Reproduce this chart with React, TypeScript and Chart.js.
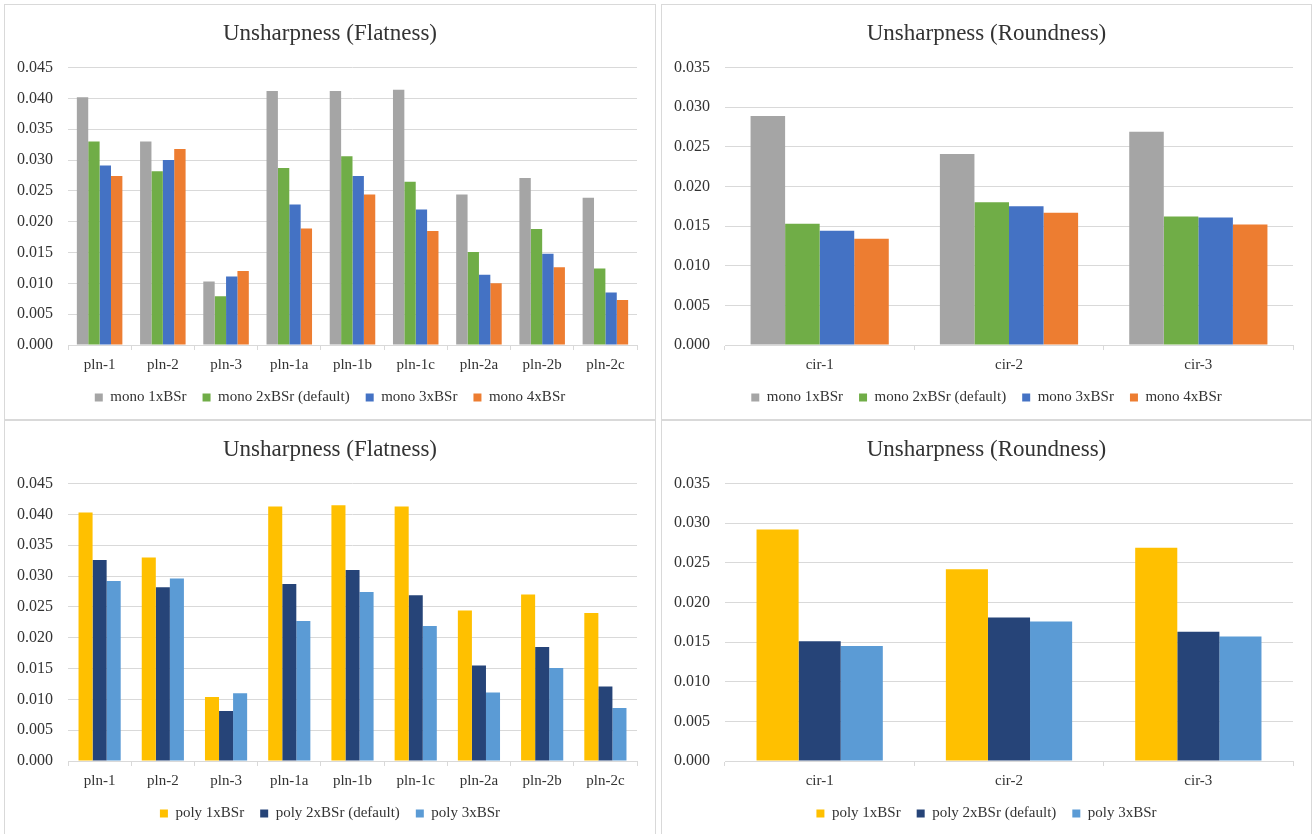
import React, { useEffect, useRef } from 'react';
import { Chart, registerables } from 'chart.js';

Chart.register(...registerables);

// ---------- data ----------
const flatCategories = ['pln-1', 'pln-2', 'pln-3', 'pln-1a', 'pln-1b', 'pln-1c', 'pln-2a', 'pln-2b', 'pln-2c'];
const roundCategories = ['cir-1', 'cir-2', 'cir-3'];

const monoLabels = ['mono 1xBSr', 'mono 2xBSr (default)', 'mono 3xBSr', 'mono 4xBSr'];
const polyLabels = ['poly 1xBSr', 'poly 2xBSr (default)', 'poly 3xBSr'];

const monoFlat1 = [0.0402, 0.0330, 0.0103, 0.0412, 0.0412, 0.0414, 0.0244, 0.0271, 0.0239];
const monoFlat2 = [0.0330, 0.0282, 0.0079, 0.0287, 0.0306, 0.0265, 0.0151, 0.0188, 0.0124];
const monoFlat3 = [0.0291, 0.0300, 0.0111, 0.0228, 0.0274, 0.0220, 0.0114, 0.0148, 0.0085];
const monoFlat4 = [0.0274, 0.0318, 0.0120, 0.0189, 0.0244, 0.0185, 0.0100, 0.0126, 0.0073];

const monoRound1 = [0.0289, 0.0241, 0.0269];
const monoRound2 = [0.0153, 0.0180, 0.0162];
const monoRound3 = [0.0144, 0.0175, 0.0161];
const monoRound4 = [0.0134, 0.0167, 0.0152];

const polyFlat1 = [0.0403, 0.0330, 0.0104, 0.0413, 0.0415, 0.0413, 0.0244, 0.0270, 0.0240];
const polyFlat2 = [0.0326, 0.0282, 0.0081, 0.0287, 0.0310, 0.0269, 0.0155, 0.0185, 0.0121];
const polyFlat3 = [0.0292, 0.0296, 0.0110, 0.0227, 0.0274, 0.0219, 0.0111, 0.0151, 0.0086];

const polyRound1 = [0.0292, 0.0242, 0.0269];
const polyRound2 = [0.0151, 0.0181, 0.0163];
const polyRound3 = [0.0145, 0.0176, 0.0157];

const flatTitle = 'Unsharpness (Flatness)';
const roundTitle = 'Unsharpness (Roundness)';

const monoColors = ['#A5A5A5', '#70AD47', '#4472C4', '#ED7D31'];
const polyColors = ['#FFC000', '#264478', '#5B9BD5'];

const SERIF = "'Times New Roman', 'Liberation Serif', serif";
const TEXT = '#333333';
const GRID = '#d9d9d9';

type PanelProps = {
  left: number;
  top: number;
  width: number;
  height: number;
  title: string;
  categories: string[];
  labels: string[];
  series: number[][];
  colors: string[];
  max: number;
  catPct: number;
};

function Panel(p: PanelProps) {
  const ref = useRef<HTMLCanvasElement | null>(null);
  useEffect(() => {
    if (!ref.current) return;
    const chart = new Chart(ref.current, {
      type: 'bar',
      data: {
        labels: p.categories,
        datasets: p.series.map((d, i) => ({
          label: p.labels[i],
          data: d,
          backgroundColor: p.colors[i],
          borderWidth: 0,
          barPercentage: 1,
          categoryPercentage: p.catPct,
          yAxisID: 'y',
        })),
      },
      options: {
        responsive: false,
        animation: false,
        layout: { padding: { top: 0, bottom: 4, left: 0, right: 0 } },
        plugins: {
          tooltip: { enabled: false },
          title: {
            display: true,
            text: p.title,
            color: TEXT,
            font: { family: SERIF, size: 23, weight: 'normal', lineHeight: 1.2 },
            padding: { top: 15, bottom: 20 },
          },
          legend: {
            display: true,
            position: 'bottom',
            title: {
              display: true,
              text: '',
              font: { size: 1, lineHeight: 0 },
              padding: { top: -6, bottom: 0 },
            },
            labels: {
              color: TEXT,
              font: { family: SERIF, size: 15 },
              boxWidth: 8,
              boxHeight: 8,
              padding: 16,
            },
          },
        },
        scales: {
          x: {
            type: 'category',
            offset: true,
            grid: {
              display: true,
              offset: true,
              drawOnChartArea: false,
              drawTicks: true,
              tickLength: 5,
              color: GRID,
              lineWidth: 1,
            },
            border: { display: true, color: GRID, width: 1 },
            ticks: {
              color: TEXT,
              font: { family: SERIF, size: 15 },
              padding: 6,
              autoSkip: false,
              maxRotation: 0,
              minRotation: 0,
            },
          },
          y: {
            type: 'linear',
            position: 'left',
            min: 0,
            max: p.max,
            grid: { color: GRID, lineWidth: 1, drawTicks: false },
            border: { display: false },
            ticks: {
              stepSize: 0.005,
              color: TEXT,
              font: { family: SERIF, size: 16 },
              padding: 15,
              callback: (v: any) => Number(v).toFixed(3),
            },
            afterFit: (s: any) => {
              s.width = 63;
            },
          },
          yr: {
            type: 'linear',
            position: 'right',
            display: true,
            grid: { display: false, drawTicks: false },
            border: { display: false },
            ticks: { display: false },
            afterFit: (s: any) => {
              s.width = 18;
            },
          },
        },
      } as any,
    });
    return () => chart.destroy();
  }, []);
  return (
    <div
      style={{
        position: 'absolute',
        left: p.left,
        top: p.top,
        width: p.width,
        height: p.height,
        border: '1px solid #d9d9d9',
        background: '#ffffff',
        boxSizing: 'content-box',
      }}
    >
      <canvas ref={ref} width={p.width} height={p.height} style={{ display: 'block' }} />
    </div>
  );
}

export default function App() {
  return (
    <div
      style={{
        position: 'fixed',
        left: 0,
        top: 0,
        width: 1312,
        height: 834,
        overflow: 'hidden',
        background: '#ffffff',
      }}
    >
      <Panel left={4} top={4} width={650} height={414} title={flatTitle} categories={flatCategories}
        labels={monoLabels} series={[monoFlat1, monoFlat2, monoFlat3, monoFlat4]} colors={monoColors}
        max={0.045} catPct={0.72} />
      <Panel left={661} top={4} width={649} height={414} title={roundTitle} categories={roundCategories}
        labels={monoLabels} series={[monoRound1, monoRound2, monoRound3, monoRound4]} colors={monoColors}
        max={0.035} catPct={0.73} />
      <Panel left={4} top={420} width={650} height={414} title={flatTitle} categories={flatCategories}
        labels={polyLabels} series={[polyFlat1, polyFlat2, polyFlat3]} colors={polyColors}
        max={0.045} catPct={0.667} />
      <Panel left={661} top={420} width={649} height={414} title={roundTitle} categories={roundCategories}
        labels={polyLabels} series={[polyRound1, polyRound2, polyRound3]} colors={polyColors}
        max={0.035} catPct={0.667} />
    </div>
  );
}
